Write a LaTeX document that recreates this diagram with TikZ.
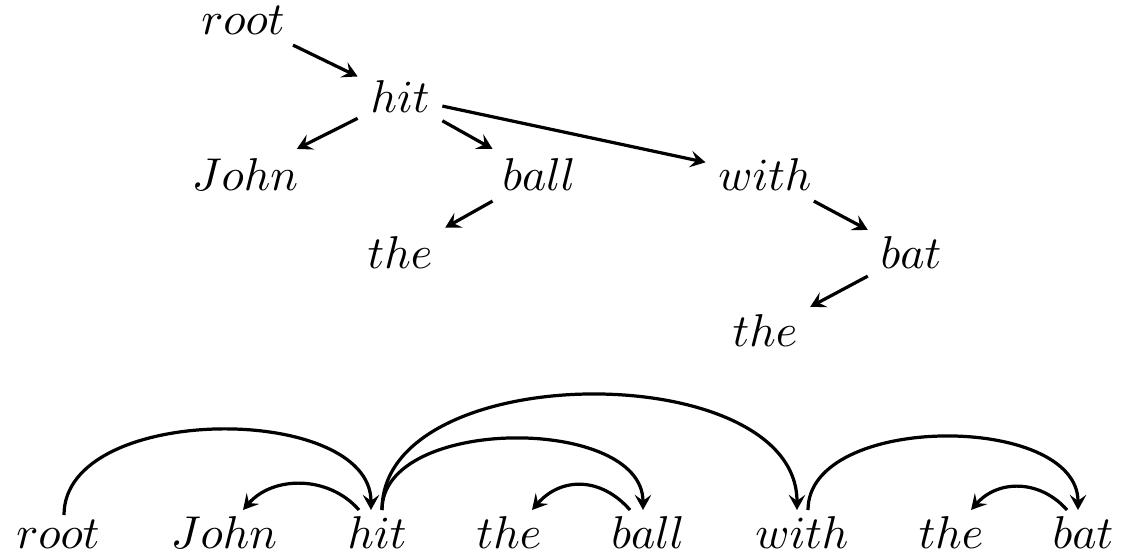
\documentclass[tikz,border=0pt]{standalone}
\usetikzlibrary{calc,arrows.meta}
\begin{document}
\begin{tikzpicture}[x=0.21739pt,y=-0.21739pt,
  word/.style={inner xsep=2.6pt,inner ysep=2pt,anchor=base},
  dep/.style={line width=0.7pt,-{Stealth[length=3.3pt,width=3.6pt,inset=1.3pt]}}]
\useasboundingbox (0,0) rectangle (1122,555);
% tree
\node[word] (troot) at (243,35) {$root$};
\node[word] (thit) at (400,113) {$hit$};
\node[word] (tjohn) at (245,191) {$John$};
\node[word] (tball) at (539,191) {$ball$};
\node[word] (twith) at (765,191) {$with$};
\node[word] (tthea) at (400,269) {$the$};
\node[word] (tbat) at (911,269) {$bat$};
\node[word] (ttheb) at (765,347) {$the$};
\draw[dep] (troot) -- (thit);
\draw[dep] (thit) -- (tjohn);
\draw[dep] (thit) -- (tball);
\draw[dep] (thit) -- (twith);
\draw[dep] (tball) -- (tthea);
\draw[dep] (twith) -- (tbat);
\draw[dep] (tbat) -- (ttheb);
% sentence
\node[word] (broot) at (58,548) {$root$};
\node[word] (bjohn) at (224,548) {$John$};
\node[word] (bhit) at (377,548) {$hit$};
\node[word] (bthea) at (509,548) {$the$};
\node[word] (bball) at (648,548) {$ball$};
\node[word] (bwith) at (802,548) {$with$};
\node[word] (btheb) at (951,548) {$the$};
\node[word] (bbat) at (1083,548) {$bat$};
\coordinate (rootO) at ($(broot.base)+(6,-33)$);
\coordinate (hitI) at ($(bhit.base)+(-6,-38)$);
\coordinate (hitL) at ($(bhit.base)+(-18,-38)$);
\coordinate (hitR) at ($(bhit.base)+(5,-38)$);
\coordinate (johnI) at ($(bjohn.base)+(19,-38)$);
\coordinate (theaI) at ($(bthea.base)+(23,-38)$);
\coordinate (ballL) at ($(bball.base)+(-18,-38)$);
\coordinate (ballI) at ($(bball.base)+(-5,-38)$);
\coordinate (withI) at ($(bwith.base)+(-5,-38)$);
\coordinate (withO) at ($(bwith.base)+(6,-38)$);
\coordinate (thebI) at ($(btheb.base)+(20,-38)$);
\coordinate (batL) at ($(bbat.base)+(-16,-38)$);
\coordinate (batI) at ($(bbat.base)+(-5,-38)$);
\draw[dep] (rootO) .. controls +(0,-112.5) and +(0,-107.5) .. (hitI);
\draw[dep] (hitL) .. controls +(-30,-34.7) and +(30,-34.7) .. (johnI);
\draw[dep] (hitR) .. controls +(0,-153.3) and +(0,-153.3) .. (withI);
\draw[dep] (hitR) .. controls +(0,-94.7) and +(0,-94.7) .. (ballI);
\draw[dep] (ballL) .. controls +(-29,-33.3) and +(29,-33.3) .. (theaI);
\draw[dep] (withO) .. controls +(0,-97.3) and +(0,-97.3) .. (batI);
\draw[dep] (batL) .. controls +(-27,-30.7) and +(27,-30.7) .. (thebI);
\end{tikzpicture}
\end{document}
